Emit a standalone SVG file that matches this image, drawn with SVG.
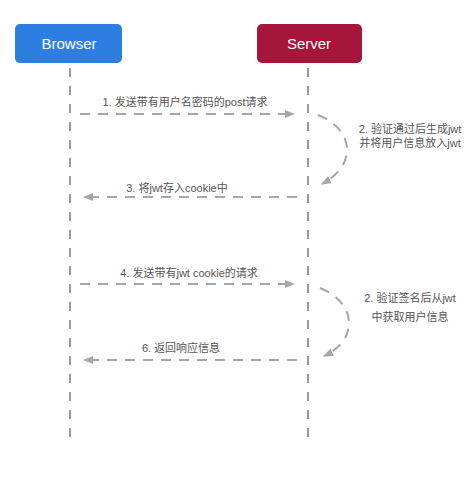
<svg xmlns="http://www.w3.org/2000/svg" width="470" height="487" viewBox="0 0 470 487">
<defs>
<style>
.box-text{font-family:"Liberation Sans",Arial,sans-serif;font-size:15px;fill:#ffffff;text-anchor:middle}
.lbl{font-family:"Liberation Sans","Noto Sans CJK SC",sans-serif;font-size:11px;fill:#555555;text-anchor:middle}
.life{stroke:#9a9a9a;stroke-width:2;stroke-dasharray:9 9;fill:none}
.msg{stroke:#a6a6a6;stroke-width:2;stroke-dasharray:10 8;fill:none;marker-end:url(#ah)}
</style>
<marker id="ah" markerWidth="10" markerHeight="8" refX="9" refY="4" orient="auto" markerUnits="userSpaceOnUse">
<path d="M0,0 L10,4 L0,8 z" fill="#a6a6a6"/>
</marker>
</defs>
<rect width="470" height="487" fill="#ffffff"/>
<g id="browser">
<rect x="15" y="24" width="107" height="39" rx="5" fill="#2e7de1"/>
<text class="box-text" x="69" y="49">Browser</text>
</g>
<g id="server">
<rect x="257" y="24" width="105" height="39" rx="5" fill="#a5163a"/>
<text class="box-text" x="309" y="49">Server</text>
</g>
<g id="lifelines">
<line class="life" x1="70" y1="68" x2="70" y2="437"/>
<line class="life" x1="308" y1="68" x2="308" y2="437"/>
</g>
<g id="connectors">
<line class="msg" x1="80" y1="114" x2="294" y2="114"/>
<path class="msg" d="M318,115 C355,130 357,165 322,184"/>
<line class="msg" x1="297" y1="197" x2="84" y2="197"/>
<line class="msg" x1="80" y1="284" x2="294" y2="284"/>
<path class="msg" d="M320,288 C357,303 359,340 324,356"/>
<line class="msg" x1="297" y1="360" x2="84" y2="360"/>
</g>
<g id="labels">
<text class="lbl" x="185" y="106">1. 发送带有用户名密码的post请求</text>
<text class="lbl" x="410" y="133">2. 验证通过后生成jwt</text>
<text class="lbl" x="410" y="147">并将用户信息放入jwt</text>
<text class="lbl" x="177" y="192">3. 将jwt存入cookie中</text>
<text class="lbl" x="189" y="277">4. 发送带有jwt cookie的请求</text>
<text class="lbl" x="410" y="302">2. 验证签名后从jwt</text>
<text class="lbl" x="410" y="321">中获取用户信息</text>
<text class="lbl" x="181" y="352">6. 返回响应信息</text>
</g>
</svg>
